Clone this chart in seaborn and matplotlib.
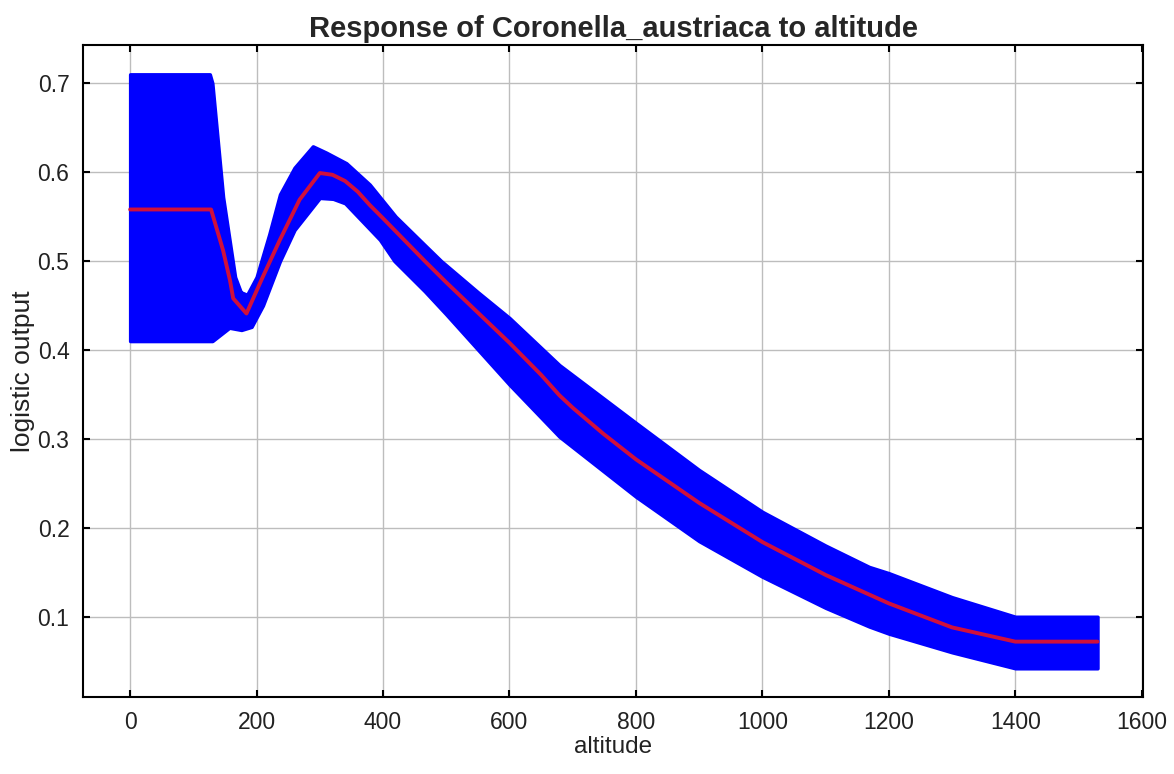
import numpy as np
import pandas as pd
import matplotlib
matplotlib.use("Agg")
import matplotlib.pyplot as plt
import seaborn as sns

# ---- data ----
mean_x = [0, 128, 147, 158, 163, 184, 210, 237, 268, 300, 320, 340, 360, 379, 400,
          466, 500, 550, 600, 650, 679, 700, 748, 800, 900, 1000, 1100, 1200, 1300, 1400, 1530]
mean_y = [0.558, 0.558, 0.512, 0.478, 0.458, 0.441, 0.4825, 0.524, 0.569, 0.599, 0.597, 0.590,
          0.578, 0.563, 0.548, 0.500, 0.476, 0.442, 0.408, 0.372, 0.349, 0.335, 0.306, 0.277,
          0.228, 0.184, 0.147, 0.115, 0.088, 0.072, 0.072]

upper_x = [0, 126, 130, 147, 166, 175, 185, 200, 220, 237, 260, 289, 310, 342, 379, 420,
           466, 492, 550, 600, 679, 800, 900, 1000, 1100, 1169, 1200, 1300, 1400, 1530]
upper_y = [0.71, 0.71, 0.70, 0.572, 0.482, 0.465, 0.462, 0.482, 0.53, 0.575, 0.605, 0.629,
           0.622, 0.61, 0.586, 0.55, 0.518, 0.50, 0.465, 0.436, 0.383, 0.318, 0.265, 0.218,
           0.18, 0.156, 0.149, 0.122, 0.10, 0.10]

lower_x = [0, 130, 157, 176, 192, 210, 237, 260, 300, 321, 340, 395, 418, 466, 500, 600,
           679, 800, 900, 1000, 1100, 1169, 1200, 1300, 1400, 1530]
lower_y = [0.41, 0.41, 0.425, 0.4225, 0.426, 0.45, 0.50, 0.535, 0.571, 0.57, 0.565, 0.524,
           0.50, 0.466, 0.44, 0.361, 0.3025, 0.235, 0.185, 0.145, 0.11, 0.089, 0.081, 0.06,
           0.042, 0.042]

title = "Response of Coronella_austriaca to altitude"
xlabel = "altitude"
ylabel = "logistic output"
xticks = [0, 200, 400, 600, 800, 1000, 1200, 1400, 1600]
yticks = [0.1, 0.2, 0.3, 0.4, 0.5, 0.6, 0.7]

# ---- styling ----
sns.set_style("whitegrid", {"grid.color": "#bdbdbd", "axes.edgecolor": "black"})
plt.rcParams["font.family"] = ["Liberation Sans", "DejaVu Sans"]

fig = plt.figure(figsize=(11.74, 7.74), dpi=100)
ax = fig.add_axes([0.071, 0.0991, 0.9026, 0.8428])

# band between lower and upper edges
grid = np.union1d(upper_x, lower_x)
up = np.interp(grid, upper_x, upper_y)
lo = np.interp(grid, lower_x, lower_y)
ax.fill_between(grid, lo, up, color="#0000ff", linewidth=2.5, edgecolor="#0000ff",
                joinstyle="round", zorder=2)

df = pd.DataFrame({"altitude": mean_x, "logistic output": mean_y})
sns.lineplot(data=df, x="altitude", y="logistic output", ax=ax, color="#d0103c",
             linewidth=2.8, zorder=3, sort=False)

ax.set_xlim(-74, 1602)
ax.set_ylim(0.0094, 0.743)
ax.set_xticks(xticks)
ax.set_yticks(yticks)
ax.set_xticklabels([str(t) for t in xticks])
ax.set_yticklabels([f"{t:.1f}" for t in yticks])
ax.grid(True, color="#bdbdbd", linewidth=1.0)
ax.set_axisbelow(True)
for s in ax.spines.values():
    s.set_visible(True)
    s.set_color("black")
    s.set_linewidth(1.5)
ax.tick_params(direction="in", length=5, width=1.5, colors="black", labelsize=16.5,
               top=True, right=True, bottom=True, left=True, pad=10, labelcolor="#222222")

ax.set_title(title, fontsize=21, fontweight="bold", pad=6)
ax.set_xlabel(xlabel, fontsize=17.5, labelpad=1, color="#222222")
ax.set_ylabel(ylabel, fontsize=19, labelpad=2, color="#222222")

fig.savefig("out.png", dpi=100, facecolor="white")
